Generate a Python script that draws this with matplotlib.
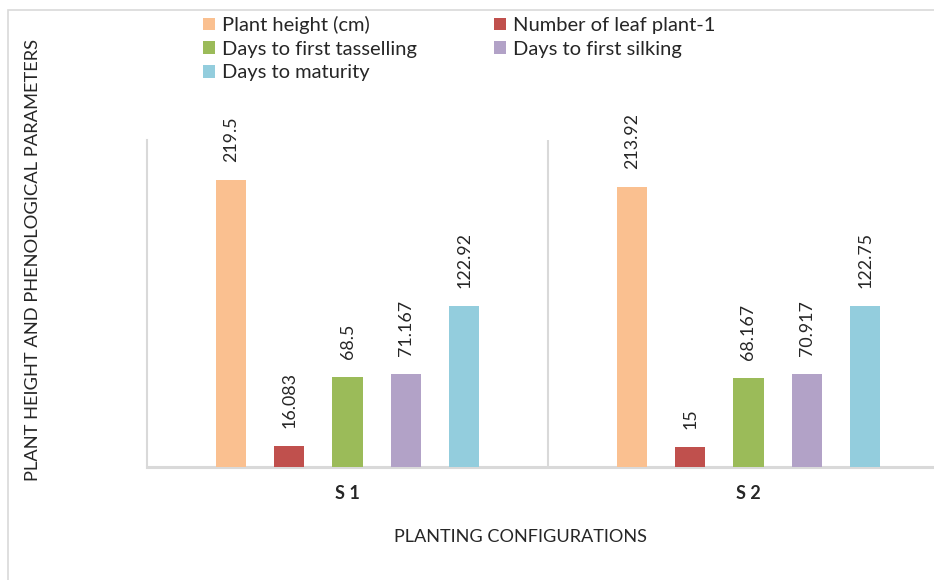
import numpy as np
import matplotlib.pyplot as plt
from matplotlib.patches import Rectangle

# Data
groups = ["S 1", "S 2"]
series = ["Plant height (cm)", "Number of leaf plant-1", "Days to first tasselling",
          "Days to first silking", "Days to maturity"]
plant_height = [219.5, 213.92]
leaf_number = [16.083, 15]
tasselling = [68.5, 68.167]
silking = [71.167, 70.917]
maturity = [122.92, 122.75]
labels = [["219.5", "213.92"], ["16.083", "15"], ["68.5", "68.167"],
          ["71.167", "70.917"], ["122.92", "122.75"]]

values = [plant_height, leaf_number, tasselling, silking, maturity]
colors = ["#FAC090", "#C0504D", "#9BBB59", "#B2A2C7", "#93CDDD"]

plt.rcParams["font.family"] = ["Lato", "DejaVu Sans"]
txt = "#262626"

fig = plt.figure(figsize=(9.34, 5.8), dpi=100)
W, H = 934, 580

# outer chart border (cropped on right/bottom)
fig.patches.append(Rectangle((8 / W, -0.1), 1.2, 1 - 10 / H + 0.1, transform=fig.transFigure,
                             fill=False, edgecolor="#D9D9D9", linewidth=1.2))

ax = fig.add_axes([147 / W, 1 - 467 / H, (949 - 147) / W, (467 - 140) / H])

x = np.arange(len(groups))
step = 0.1454
width = 0.075
handles = []
for i, (vals, col) in enumerate(zip(values, colors)):
    pos = x + (i - 2) * step
    b = ax.bar(pos, vals, width, color=col, label=series[i], zorder=3)
    handles.append(b)
    for p, v, lab in zip(pos, vals, labels[i]):
        ax.annotate(lab, (p, v), xytext=(0, 13), textcoords="offset points",
                    rotation=90, ha="center", va="bottom", fontsize=12.8, color=txt)

ax.set_xlim(-0.5, 1.5)
ax.set_ylim(0, 250)
ax.set_yticks([])
ax.set_xticks(x)
ax.set_xticklabels(groups, fontsize=13, fontweight="bold", color=txt)
ax.tick_params(axis="x", length=0, pad=13)
for s in ["top", "right"]:
    ax.spines[s].set_visible(False)
ax.spines["left"].set_color("#D9D9D9")
ax.spines["left"].set_linewidth(1.5)
ax.spines["bottom"].set_color("#D9D9D9")
ax.spines["bottom"].set_linewidth(2.2)
ax.axvline(0.5, color="#D9D9D9", linewidth=1.5, zorder=1)

fig.text(520 / W, 1 - 537 / H, "PLANTING CONFIGURATIONS", ha="center", va="center",
         fontsize=13.1, color=txt)
fig.text(33 / W, 1 - 260 / H, "PLANT HEIGHT AND PHENOLOGICAL PARAMETERS", ha="center",
         va="center", rotation=90, fontsize=13.2, color=txt)

# legend filled row by row like the original
order = [0, 2, 4, 1, 3]
fig.legend([handles[k] for k in order], [series[k] for k in order],
           loc="upper left", bbox_to_anchor=(195 / W, 1 - 8 / H), ncol=2, frameon=False,
           fontsize=14.5, handlelength=0.6, handleheight=0.6, handletextpad=0.35,
           columnspacing=3.8, labelspacing=0.33, labelcolor=txt, borderaxespad=0)

fig.savefig("out.png", dpi=100)
